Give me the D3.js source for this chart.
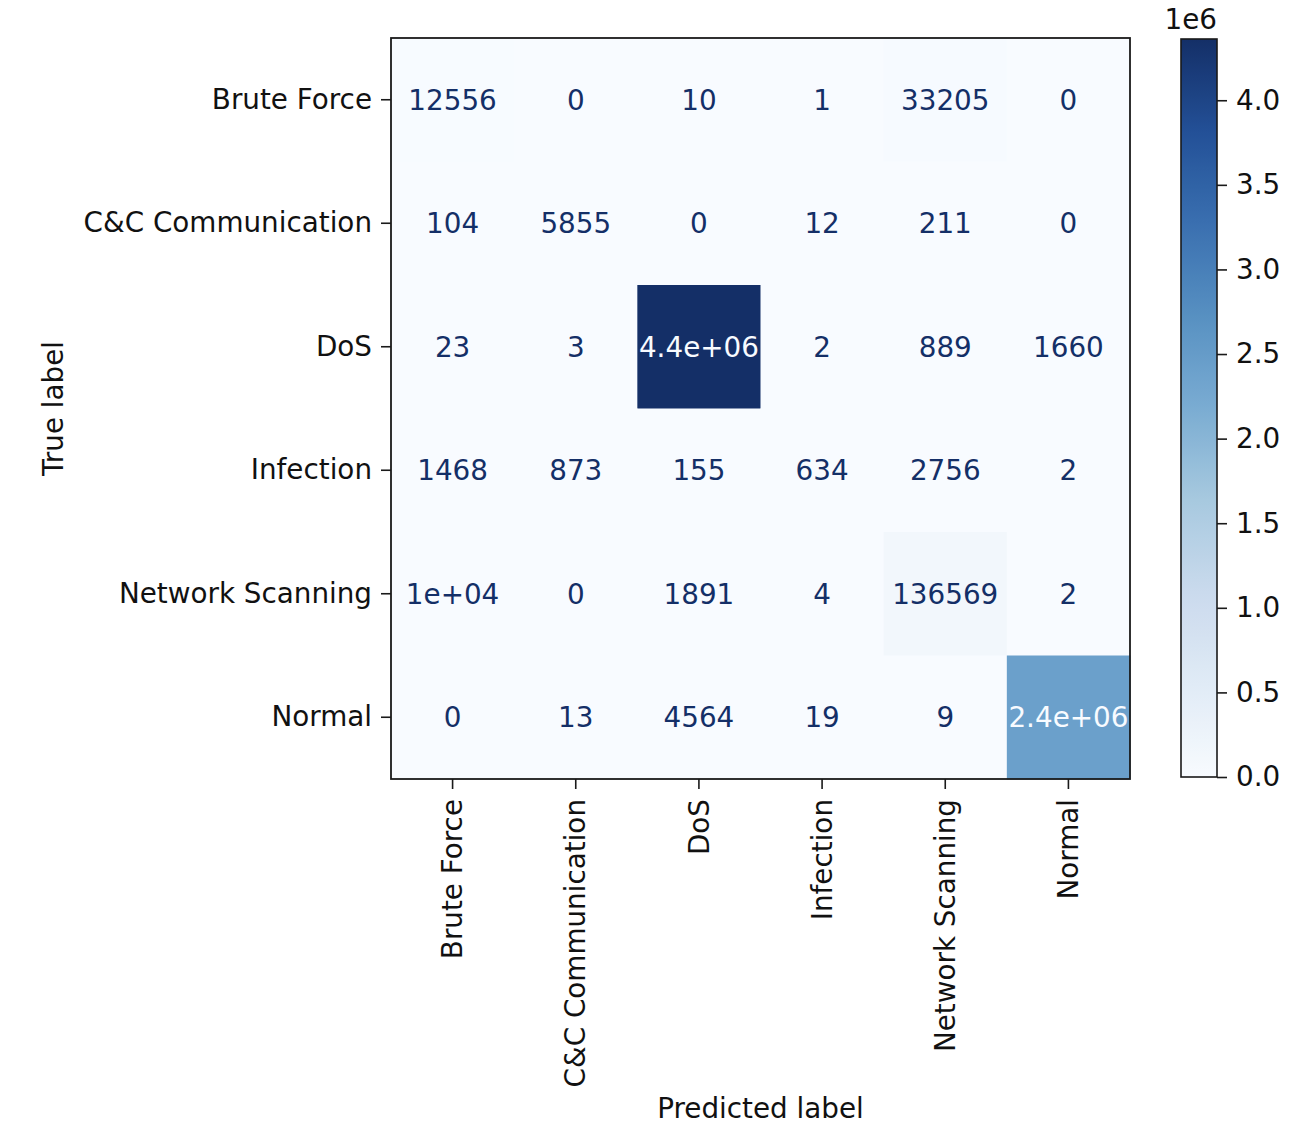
<!DOCTYPE html>
<html>
<head>
<meta charset="utf-8">
<script src="https://cdn.jsdelivr.net/npm/d3@7"></script>
<style>
  body { margin: 0; background: #fff; }
  svg text { font-family: "DejaVu Sans", sans-serif; }
</style>
</head>
<body>
<svg width="1294" height="1140"></svg>

<script>

var labels = ["Brute Force", "C&C Communication", "DoS", "Infection", "Network Scanning", "Normal"];

// rows = true label, columns = predicted label
var bruteForce   = [12556, 0, 10, 1, 33205, 0];
var ccComm       = [104, 5855, 0, 12, 211, 0];
var dos          = [23, 3, 4362000, 2, 889, 1660];
var infection    = [1468, 873, 155, 634, 2756, 2];
var netScanning  = [10021, 0, 1891, 4, 136569, 2];
var normal       = [0, 13, 4564, 19, 9, 2412000];

var matrix = [bruteForce, ccComm, dos, infection, netScanning, normal];

var colorbarTicks = [0, 0.5, 1.0, 1.5, 2.0, 2.5, 3.0, 3.5, 4.0];

var svg = d3.select("svg");
var fs = 27.8;

// the reference screenshot carries a display-P3 tint; re-express sRGB values that way
function tint(c) {
  c = d3.rgb(c);
  var lin = function(v) { v /= 255; return v <= 0.04045 ? v / 12.92 : Math.pow((v + 0.055) / 1.055, 2.4); };
  var enc = function(v) { v = v <= 0.0031308 ? v * 12.92 : 1.055 * Math.pow(v, 1 / 2.4) - 0.055; return Math.round(Math.max(0, Math.min(1, v)) * 255); };
  var r = lin(c.r), g = lin(c.g), b = lin(c.b);
  return d3.rgb(enc(0.8225 * r + 0.1774 * g),
                enc(0.0332 * r + 0.9669 * g),
                enc(0.0171 * r + 0.0724 * g + 0.9108 * b)).formatHex();
}

// matplotlib "Blues"
var bluesRaw = d3.piecewise(d3.interpolateRgb, ["#f7fbff", "#deebf7", "#c6dbef", "#9ecae1",
  "#6baed6", "#4292c6", "#2171b5", "#08519c", "#08306b"]);
var blues = function(t) { return tint(bluesRaw(t)); };

var flat = d3.merge(matrix),
    vmin = d3.min(flat),
    vmax = d3.max(flat),
    thresh = (vmax + vmin) / 2;

var color = function(v) { return blues((v - vmin) / (vmax - vmin)); };

var pLeft = 391, pRight = 1130, pTop = 38, pBottom = 779;

var x = d3.scaleBand().domain(d3.range(labels.length)).range([pLeft, pRight]);
var y = d3.scaleBand().domain(d3.range(labels.length)).range([pTop, pBottom]);

// sklearn-like formatting: shorter of ".2g" and "d"
function fmt(v) {
  var p = v.toPrecision(2);
  if (p.indexOf("e") >= 0) {
    var m = p.split("e"), mant = m[0], ex = +m[1];
    if (mant.indexOf(".") >= 0) mant = mant.replace(/\.?0+$/, "");
    p = mant + "e" + (ex < 0 ? "-" : "+") + (Math.abs(ex) < 10 ? "0" : "") + Math.abs(ex);
  } else if (p.indexOf(".") >= 0) {
    p = p.replace(/\.?0+$/, "");
  }
  var d = String(v);
  return d.length < p.length ? d : p;
}

var cells = [];
matrix.forEach(function(row, i) {
  row.forEach(function(v, j) { cells.push({i: i, j: j, v: v}); });
});

svg.append("g").selectAll("rect")
  .data(cells)
  .enter().append("rect")
    .attr("x", function(d) { return x(d.j); })
    .attr("y", function(d) { return y(d.i); })
    .attr("width", x.bandwidth() + 0.5)
    .attr("height", y.bandwidth() + 0.5)
    .attr("fill", function(d) { return color(d.v); });

svg.append("g").selectAll("text")
  .data(cells)
  .enter().append("text")
    .attr("x", function(d) { return x(d.j) + x.bandwidth() / 2; })
    .attr("y", function(d) { return y(d.i) + y.bandwidth() / 2; })
    .attr("dy", "0.36em")
    .attr("text-anchor", "middle")
    .attr("font-size", fs)
    .attr("fill", function(d) { return d.v < thresh ? blues(1) : blues(0); })
    .text(function(d) { return fmt(d.v); });

// frame
svg.append("rect")
    .attr("x", pLeft).attr("y", pTop)
    .attr("width", pRight - pLeft).attr("height", pBottom - pTop)
    .attr("fill", "none").attr("stroke", "#1a1a1a").attr("stroke-width", 1.8);

var yAxis = svg.append("g")
    .attr("transform", "translate(" + pLeft + ",0)")
    .call(d3.axisLeft(y).tickSize(10).tickPadding(9).tickFormat(function(i) { return labels[i]; }));

var xAxis = svg.append("g")
    .attr("transform", "translate(0," + pBottom + ")")
    .call(d3.axisBottom(x).tickSize(10).tickPadding(9).tickFormat(function(i) { return labels[i]; }));

xAxis.selectAll("text")
    .attr("transform", "translate(0,20) rotate(-90)")
    .attr("x", 0).attr("y", 0)
    .attr("dy", "0.35em")
    .attr("text-anchor", "end");

[xAxis, yAxis].forEach(function(a) {
  a.select(".domain").remove();
  a.selectAll(".tick line").attr("stroke", "#1a1a1a").attr("stroke-width", 1.6);
  a.selectAll("text").attr("font-size", fs).attr("fill", "#111")
      .attr("font-family", "DejaVu Sans, sans-serif");
});

svg.append("text")
    .attr("transform", "translate(63," + ((pTop + pBottom) / 2) + ") rotate(-90)")
    .attr("text-anchor", "middle")
    .attr("font-size", fs)
    .attr("fill", "#111")
    .text("True label");

svg.append("text")
    .attr("x", (pLeft + pRight) / 2)
    .attr("y", 1118)
    .attr("text-anchor", "middle")
    .attr("font-size", fs)
    .attr("fill", "#111")
    .text("Predicted label");

// colorbar
var cbLeft = 1181, cbRight = 1217, cbTop = 39, cbBottom = 777;
var cb = d3.scaleLinear().domain([0, vmax / 1e6]).range([cbBottom, cbTop]);

var grad = svg.append("defs").append("linearGradient")
    .attr("id", "cbgrad")
    .attr("x1", 0).attr("y1", 1).attr("x2", 0).attr("y2", 0);
grad.selectAll("stop")
  .data(d3.range(0, 1.0001, 1 / 40))
  .enter().append("stop")
    .attr("offset", function(t) { return t; })
    .attr("stop-color", function(t) { return blues(t); });

svg.append("rect")
    .attr("x", cbLeft).attr("y", cbTop)
    .attr("width", cbRight - cbLeft).attr("height", cbBottom - cbTop)
    .attr("fill", "url(#cbgrad)")
    .attr("stroke", "#1a1a1a").attr("stroke-width", 1.6);

var cbAxis = svg.append("g")
    .attr("transform", "translate(" + cbRight + ",0)")
    .call(d3.axisRight(cb).tickValues(colorbarTicks).tickSize(10).tickPadding(9).tickFormat(d3.format(".1f")));
cbAxis.select(".domain").remove();
cbAxis.selectAll(".tick line").attr("stroke", "#1a1a1a").attr("stroke-width", 1.6);
cbAxis.selectAll("text").attr("font-size", fs).attr("fill", "#111")
    .attr("font-family", "DejaVu Sans, sans-serif");

svg.append("text")
    .attr("x", cbRight)
    .attr("y", 29)
    .attr("text-anchor", "end")
    .attr("font-size", fs)
    .attr("fill", "#111")
    .text("1e6");

</script>
</body>
</html>
